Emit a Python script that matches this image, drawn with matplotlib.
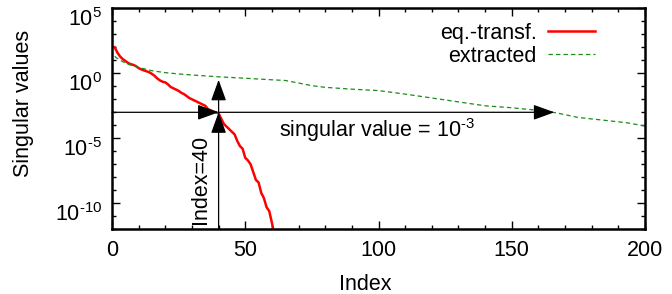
import numpy as np
import matplotlib
matplotlib.use('Agg')
import matplotlib.pyplot as plt
from matplotlib import ticker, transforms

# eq.-transf. singular values (log10), index 1..61
red_idx = list(range(1, 62))
red_log = [2.0, 1.6, 1.3, 1.1, 0.95, 0.8, 0.7, 0.65, 0.55, 0.4,
           0.3, 0.22, 0.15, 0.08, -0.05, -0.2, -0.4, -0.55, -0.65, -0.7,
           -0.85, -1.05, -1.15, -1.25, -1.35, -1.5, -1.6, -1.75, -1.9, -2.0,
           -2.1, -2.2, -2.3, -2.4, -2.5, -2.75, -2.85, -2.95, -3.0, -3.08,
           -3.5, -3.9, -4.1, -4.3, -4.5, -4.7, -5.2, -5.6, -5.8, -6.5,
           -6.7, -7.0, -7.6, -8.2, -8.4, -9.2, -9.6, -10.3, -10.6, -11.5,
           -12.5]

# extracted singular values (log10) read at these indices
green_idx = [1, 3, 6, 10, 15, 20, 25, 30, 40, 50, 60, 65, 70, 75, 80, 90, 100,
             110, 120, 130, 140, 150, 160, 167, 175, 185, 193, 200]
green_log = [1.3, 1.0, 0.7, 0.45, 0.2, 0.05, -0.05, -0.13, -0.27, -0.38, -0.5,
             -0.55, -0.75, -0.95, -1.08, -1.22, -1.33, -1.6, -1.9, -2.2, -2.5,
             -2.65, -2.85, -3.05, -3.4, -3.62, -3.8, -4.05]

ytick_exp = [5, 0, -5, -10]

cut_index = 40
cut_value = 1e-3
extracted_cross = 166
up_tip = 10 ** -0.5

plt.rcParams['font.family'] = ['Liberation Sans', 'DejaVu Sans']
plt.rcParams['mathtext.fontset'] = 'custom'
plt.rcParams['mathtext.rm'] = 'Liberation Sans'
plt.rcParams['mathtext.it'] = 'Liberation Sans:italic'
plt.rcParams['mathtext.bf'] = 'Liberation Sans:bold'
plt.rcParams['font.size'] = 15.5

fig = plt.figure(figsize=(6.72, 2.94), dpi=100)
ax = fig.add_axes([112 / 672, 1 - 229.3 / 294, 533 / 672, 221 / 294])

ax.plot(red_idx, 10.0 ** np.array(red_log), color='red', lw=1.8, label='eq.-transf.')
ax.plot(green_idx, 10.0 ** np.array(green_log), color='#1a8c1a', lw=0.9,
        dashes=(3.5, 2.5), label='extracted')

ax.set_yscale('log')
ax.set_xlim(0, 200)
ax.set_ylim(1e-12, 1e5)


def sup_label(v, pos):
    e = int(round(np.log10(v)))
    s = str(e).replace('-', '\u2010')
    return '$10^{%s}$' % s


ax.xaxis.set_major_locator(ticker.MultipleLocator(50))
ax.xaxis.set_minor_locator(ticker.MultipleLocator(10))
ax.yaxis.set_major_locator(ticker.FixedLocator([10.0 ** e for e in ytick_exp]))
ax.yaxis.set_major_formatter(ticker.FuncFormatter(sup_label))
ax.yaxis.set_minor_locator(ticker.FixedLocator([10.0 ** k for k in range(-12, 6)]))
ax.yaxis.set_minor_formatter(ticker.NullFormatter())
ax.tick_params(which='both', direction='in', top=True, right=True, width=1)
ax.tick_params(which='major', length=5.8, pad=8)
ax.tick_params(which='minor', length=2.9)
ax.tick_params(axis='y', which='major', pad=7)
for s in ax.spines.values():
    s.set_linewidth(1.8)

# gnuplot places the y labels a bit below their ticks
shift = transforms.ScaledTranslation(0, -9 / 100, fig.dpi_scale_trans)
for lab in ax.yaxis.get_majorticklabels():
    lab.set_transform(lab.get_transform() + shift)

aprops = dict(arrowstyle='-|>,head_length=1.3,head_width=0.47', color='black',
              lw=0.9, shrinkA=0, shrinkB=0, mutation_scale=10)
ax.annotate('', xy=(cut_index, cut_value), xytext=(0, cut_value), arrowprops=aprops)
ax.annotate('', xy=(extracted_cross, cut_value), xytext=(cut_index, cut_value), arrowprops=aprops)
ax.annotate('', xy=(cut_index, cut_value), xytext=(cut_index, 1e-12), arrowprops=aprops)
ax.annotate('', xy=(cut_index, up_tip), xytext=(cut_index, cut_value), arrowprops=aprops)

ax.text(62.5, 10 ** -4.4, 'singular value = $10^{\u20103}$', ha='left', va='center')
ax.text(37.3, 2.5e-12, 'Index=40', rotation=90, ha='right', va='bottom')

ax.set_xlabel('Index')
ax.set_ylabel('Singular values')
ax.xaxis.set_label_coords(0.475, -0.2)
ax.yaxis.set_label_coords(-0.147, 0.571)

ax.legend(loc='upper right', bbox_to_anchor=(0.906, 0.935), frameon=False,
          markerfirst=False, handlelength=2.2, handletextpad=0.5,
          labelspacing=0.1, borderpad=0, borderaxespad=0)

fig.savefig('out.png', dpi=100)
